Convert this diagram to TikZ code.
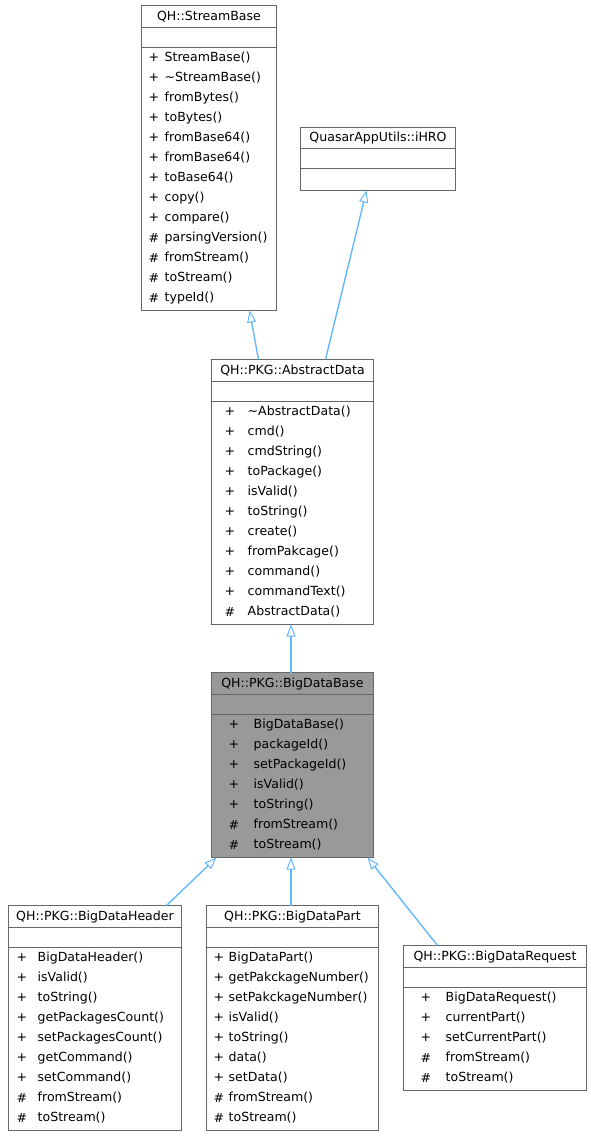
\documentclass[tikz,border=0pt]{standalone}
\usepackage{fontspec}
\setmainfont{DejaVu Sans}
\usetikzlibrary{arrows.meta,calc}
\definecolor{edgec}{HTML}{63B8FF}
\definecolor{boxc}{HTML}{666666}
\definecolor{hlc}{HTML}{999999}
\begin{document}
\begin{tikzpicture}[x=1bp,y=-1bp,
  cls/.style={draw=boxc, line width=1bp, fill=white, anchor=north west, inner sep=0pt, outer sep=0pt},
  divl/.style={draw=boxc, line width=1bp},
  txt/.style={inner sep=0pt, anchor=west, font=\fontsize{12.6}{15}\selectfont},
  ttl/.style={inner sep=0pt, anchor=center, font=\fontsize{12.6}{15}\selectfont},
  inh/.style={draw=edgec, line width=1.4bp, -{Triangle[length=12bp,width=9bp,fill=white,line width=1bp]}},
  inhv/.style={inh, line width=2bp, -{Triangle[length=12bp,width=9bp,fill=white,line width=1bp]}}
]
\useasboundingbox (0,0) rectangle (591,1136);

% QH::StreamBase
\node[cls, minimum width=135bp, minimum height=305bp] (sb) at (141.5,5.5) {};
\draw[divl] ($(sb.north west)+(0,22)$) -- ($(sb.north east)+(0,22)$);
\draw[divl] ($(sb.north west)+(0,42)$) -- ($(sb.north east)+(0,42)$);
\node[ttl] (sbt) at ($(sb.north)+(0,11.5)$) {QH::StreamBase};
\foreach \s/\m [count=\i from 0] in {+/StreamBase(),+/\textasciitilde StreamBase(),+/fromBytes(),+/toBytes(),+/fromBase64(),+/fromBase64(),+/toBase64(),+/copy(),+/compare(),\#/parsingVersion(),\#/fromStream(),\#/toStream(),\#/typeId()}{
  \node[txt] (sbs\i) at ($(sb.north west)+(7,52.5+20*\i)$) {\s};
  \node[txt] (sbm\i) at ($(sb.north west)+(23,52.5+20*\i)$) {\m};
}

% QuasarAppUtils::iHRO
\node[cls, minimum width=155bp, minimum height=63bp] (ih) at (300.5,127.5) {};
\draw[divl] ($(ih.north west)+(0,21)$) -- ($(ih.north east)+(0,21)$);
\draw[divl] ($(ih.north west)+(0,41)$) -- ($(ih.north east)+(0,41)$);
\node[ttl] (iht) at ($(ih.north)+(0,11)$) {QuasarAppUtils::iHRO};

% QH::PKG::AbstractData
\node[cls, minimum width=162bp, minimum height=265bp] (ad) at (211.5,359.5) {};
\draw[divl] ($(ad.north west)+(0,22)$) -- ($(ad.north east)+(0,22)$);
\draw[divl] ($(ad.north west)+(0,42)$) -- ($(ad.north east)+(0,42)$);
\node[ttl] (adt) at ($(ad.north)+(0,11.5)$) {QH::PKG::AbstractData};
\foreach \s/\m [count=\i from 0] in {+/\textasciitilde AbstractData(),+/cmd(),+/cmdString(),+/toPackage(),+/isValid(),+/toString(),+/create(),+/fromPakcage(),+/command(),+/commandText(),\#/AbstractData()}{
  \node[txt] (ads\i) at ($(ad.north west)+(13,52.5+20*\i)$) {\s};
  \node[txt] (adm\i) at ($(ad.north west)+(36,52.5+20*\i)$) {\m};
}

% QH::PKG::BigDataBase
\node[cls, fill=hlc, minimum width=162bp, minimum height=185bp] (bb) at (211.5,672.5) {};
\draw[divl] ($(bb.north west)+(0,22)$) -- ($(bb.north east)+(0,22)$);
\draw[divl] ($(bb.north west)+(0,42)$) -- ($(bb.north east)+(0,42)$);
\node[ttl] (bbt) at ($(bb.north)+(0,11.5)$) {QH::PKG::BigDataBase};
\foreach \s/\m [count=\i from 0] in {+/BigDataBase(),+/packageId(),+/setPackageId(),+/isValid(),+/toString(),\#/fromStream(),\#/toStream()}{
  \node[txt] (bbs\i) at ($(bb.north west)+(17,52.5+20*\i)$) {\s};
  \node[txt] (bbm\i) at ($(bb.north west)+(42,52.5+20*\i)$) {\m};
}

% QH::PKG::BigDataHeader
\node[cls, minimum width=173bp, minimum height=225bp] (hd) at (8.5,905.5) {};
\draw[divl] ($(hd.north west)+(0,22)$) -- ($(hd.north east)+(0,22)$);
\draw[divl] ($(hd.north west)+(0,42)$) -- ($(hd.north east)+(0,42)$);
\node[ttl] (hdt) at ($(hd.north)+(0,11.5)$) {QH::PKG::BigDataHeader};
\foreach \s/\m [count=\i from 0] in {+/BigDataHeader(),+/isValid(),+/toString(),+/getPackagesCount(),+/setPackagesCount(),+/getCommand(),+/setCommand(),\#/fromStream(),\#/toStream()}{
  \node[txt] (hds\i) at ($(hd.north west)+(8,52.5+20*\i)$) {\s};
  \node[txt] (hdm\i) at ($(hd.north west)+(29,52.5+20*\i)$) {\m};
}

% QH::PKG::BigDataPart
\node[cls, minimum width=172bp, minimum height=225bp] (pt) at (206.5,905.5) {};
\draw[divl] ($(pt.north west)+(0,22)$) -- ($(pt.north east)+(0,22)$);
\draw[divl] ($(pt.north west)+(0,42)$) -- ($(pt.north east)+(0,42)$);
\node[ttl] (ptt) at ($(pt.north)+(0,11.5)$) {QH::PKG::BigDataPart};
\foreach \s/\m [count=\i from 0] in {+/BigDataPart(),+/getPakckageNumber(),+/setPakckageNumber(),+/isValid(),+/toString(),+/data(),+/setData(),\#/fromStream(),\#/toStream()}{
  \node[txt] (pts\i) at ($(pt.north west)+(7,52.5+20*\i)$) {\s};
  \node[txt] (ptm\i) at ($(pt.north west)+(22,52.5+20*\i)$) {\m};
}

% QH::PKG::BigDataRequest
\node[cls, minimum width=183bp, minimum height=145bp] (rq) at (403.5,945.5) {};
\draw[divl] ($(rq.north west)+(0,22)$) -- ($(rq.north east)+(0,22)$);
\draw[divl] ($(rq.north west)+(0,42)$) -- ($(rq.north east)+(0,42)$);
\node[ttl] (rqt) at ($(rq.north)+(0,11.5)$) {QH::PKG::BigDataRequest};
\foreach \s/\m [count=\i from 0] in {+/BigDataRequest(),+/currentPart(),+/setCurrentPart(),\#/fromStream(),\#/toStream()}{
  \node[txt] (rqs\i) at ($(rq.north west)+(17,52.5+20*\i)$) {\s};
  \node[txt] (rqm\i) at ($(rq.north west)+(42,52.5+20*\i)$) {\m};
}

% inheritance connectors
\draw[inh] ($(ad.north west)+(47,0)$) -- ($(sb.south west)+(108,0)$);
\draw[inh] ($(ad.north west)+(114,0)$) -- ($(ih.south west)+(66,0)$);
\draw[inhv] ($(bb.north west)+(79.5,0)$) -- ($(ad.south west)+(79.5,0)$);
\draw[inh] ($(hd.north west)+(158,0)$) -- ($(bb.south west)+(5,0)$);
\draw[inhv] ($(pt.north west)+(84.5,0)$) -- ($(bb.south west)+(79.5,0)$);
\draw[inh] ($(rq.north west)+(34,0)$) -- ($(bb.south west)+(156,0)$);
\end{tikzpicture}
\end{document}
